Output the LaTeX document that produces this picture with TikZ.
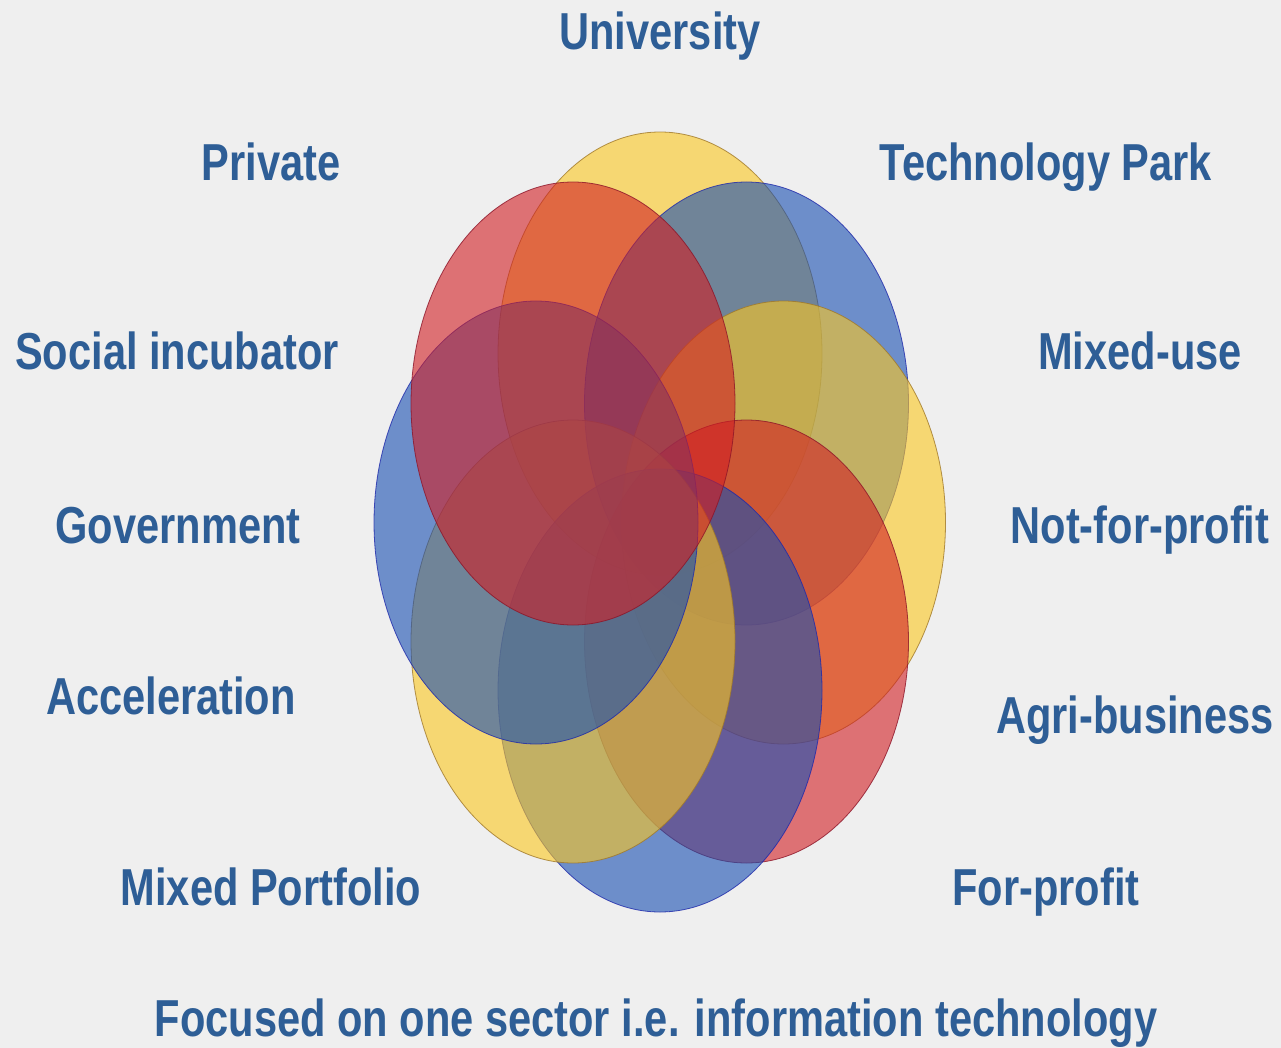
\documentclass[tikz,border=0pt]{standalone}
\usepackage{fontspec}
\setmainfont{Liberation Sans}
\newfontfamily\lblfont{Liberation Sans}[FakeStretch=0.8]
\usetikzlibrary{shapes.geometric}

\definecolor{bgcol}{RGB}{239,239,239}
\definecolor{lblblue}{RGB}{46,94,150}
\definecolor{pyellow}{RGB}{252,200,32}
\definecolor{pyellowline}{RGB}{160,120,40}
\definecolor{pblue}{RGB}{23,78,178}
\definecolor{pblueline}{RGB}{30,40,170}
\definecolor{pred}{RGB}{210,30,35}
\definecolor{predline}{RGB}{140,20,40}

\begin{document}
\begin{tikzpicture}[x=1pt,y=-1pt,
  petal/.style={ellipse,minimum width=324pt,minimum height=443pt,inner sep=0pt,fill opacity=.6,draw opacity=.8,line width=.8pt},
  ypetal/.style={petal,fill=pyellow,draw=pyellowline},
  bpetal/.style={petal,fill=pblue,draw=pblueline},
  rpetal/.style={petal,fill=pred,draw=predline},
  lbl/.style={anchor=base,text=lblblue,inner sep=0pt,font=\lblfont\bfseries\fontsize{52}{60}\selectfont}]
  \useasboundingbox (0,0) rectangle (1281,1048);
  \fill[bgcol] (0,0) rectangle (1281,1048);

  % rosette, clockwise from the top
  \node[ypetal] (p1) at (660,353.5) {};
  \node[bpetal] (p2) at (746.5,403.5) {};
  \node[ypetal] (p3) at (783.5,522.5) {};
  \node[rpetal] (p4) at (746.5,641.5) {};
  \node[bpetal] (p5) at (660,690.5) {};
  \node[ypetal] (p6) at (573,641.5) {};
  \node[bpetal] (p7) at (536,522.5) {};
  \node[rpetal] (p8) at (573,403.5) {};

  \node[lbl] (univ) at (660,50) {University};
  \node[lbl] (priv) at (271,181) {Private};
  \node[lbl] (tech) at (1046,181) {Technology Park};
  \node[lbl] (social) at (177,369) {Social incubator};
  \node[lbl] (mixuse) at (1140,369) {Mixed-use};
  \node[lbl] (gov) at (178,543) {Government};
  \node[lbl] (nfp) at (1140,543) {Not-for-profit};
  \node[lbl] (accel) at (171,714) {Acceleration};
  \node[lbl] (agri) at (1135,733) {Agri-business};
  \node[lbl] (mixport) at (271,905) {Mixed Portfolio};
  \node[lbl] (fp) at (1046,905) {For-profit};
  \node[lbl] (focus) at (656,1036) {Focused on one sector i.e. information technology};
\end{tikzpicture}
\end{document}
